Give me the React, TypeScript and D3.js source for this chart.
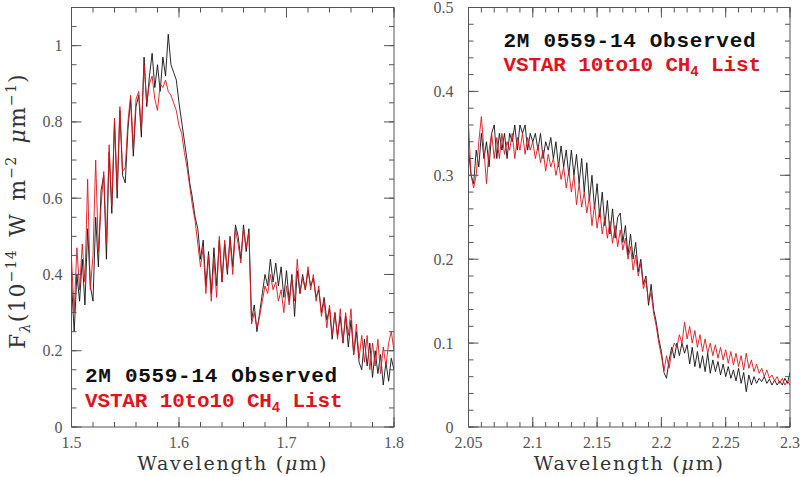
import React from "react";
import * as d3 from "d3";

// ---------- DATA ----------
// Left panel: H band, wavelength grid 1.500 .. 1.800 µm, step 0.0025
const LEFT_START = 1.5;
const LEFT_STEP = 0.0025;
const leftObserved = [
  0.38, 0.25, 0.40, 0.33, 0.44, 0.32, 0.52, 0.37, 0.33, 0.55,
  0.42, 0.62, 0.66, 0.44, 0.72, 0.56, 0.80, 0.60, 0.83, 0.66,
  0.64, 0.78, 0.86, 0.71, 0.84, 0.87, 0.76, 0.97, 0.84, 0.92,
  0.98, 0.89, 0.95, 0.88, 0.97, 0.92, 1.03, 0.95, 0.93, 0.91,
  0.85, 0.80, 0.75, 0.70, 0.64, 0.60, 0.55, 0.52, 0.44, 0.49,
  0.37, 0.46, 0.35, 0.47, 0.37, 0.49, 0.38, 0.48, 0.40, 0.50,
  0.42, 0.53, 0.50, 0.44, 0.53, 0.46, 0.52, 0.28, 0.32, 0.25,
  0.30, 0.35, 0.40, 0.37, 0.44, 0.38, 0.43, 0.37, 0.42, 0.34,
  0.41, 0.33, 0.40, 0.29, 0.41, 0.35, 0.40, 0.36, 0.41, 0.37,
  0.39, 0.34, 0.36, 0.30, 0.34, 0.28, 0.31, 0.23, 0.30, 0.24,
  0.29, 0.22, 0.29, 0.21, 0.28, 0.19, 0.25, 0.17, 0.15, 0.23,
  0.16, 0.22, 0.13, 0.20, 0.14, 0.19, 0.11, 0.17, 0.12, 0.18,
  0.15,
];
const leftModel = [
  0.44, 0.30, 0.47, 0.36, 0.48, 0.38, 0.65, 0.36, 0.45, 0.70,
  0.46, 0.58, 0.67, 0.48, 0.74, 0.58, 0.81, 0.62, 0.84, 0.67,
  0.68, 0.80, 0.87, 0.73, 0.86, 0.88, 0.78, 0.95, 0.85, 0.90,
  0.92, 0.86, 0.83, 0.90, 0.89, 0.91, 0.88, 0.87, 0.85, 0.83,
  0.79, 0.77, 0.72, 0.68, 0.63, 0.58, 0.54, 0.48, 0.42, 0.47,
  0.35, 0.45, 0.33, 0.44, 0.34, 0.50, 0.38, 0.49, 0.41, 0.49,
  0.40, 0.52, 0.48, 0.43, 0.52, 0.47, 0.51, 0.27, 0.30, 0.26,
  0.29, 0.33, 0.37, 0.35, 0.40, 0.36, 0.38, 0.33, 0.36, 0.30,
  0.37, 0.32, 0.39, 0.33, 0.44, 0.35, 0.39, 0.36, 0.42, 0.36,
  0.40, 0.33, 0.37, 0.29, 0.33, 0.26, 0.32, 0.24, 0.30, 0.23,
  0.31, 0.22, 0.30, 0.24, 0.31, 0.19, 0.27, 0.18, 0.24, 0.17,
  0.24, 0.15, 0.22, 0.16, 0.23, 0.14, 0.21, 0.16, 0.22, 0.25,
  0.20,
];

// Right panel: K band, wavelength grid 2.050 .. 2.300 µm, step 0.002
const RIGHT_START = 2.05;
const RIGHT_STEP = 0.002;
const rightObserved = [
  0.33, 0.30, 0.29, 0.33, 0.31, 0.35, 0.32, 0.34, 0.31, 0.35,
  0.36, 0.32, 0.35, 0.33, 0.35, 0.32, 0.35, 0.34, 0.36, 0.33,
  0.36, 0.35, 0.36, 0.33, 0.35, 0.34, 0.35, 0.33, 0.35, 0.32,
  0.34, 0.33, 0.345, 0.32, 0.34, 0.31, 0.335, 0.31, 0.33, 0.30,
  0.33, 0.30, 0.325, 0.29, 0.32, 0.28, 0.315, 0.27, 0.30, 0.26,
  0.29, 0.25, 0.28, 0.24, 0.27, 0.23, 0.26, 0.225, 0.25, 0.255,
  0.22, 0.24, 0.205, 0.23, 0.20, 0.22, 0.185, 0.20, 0.17, 0.18,
  0.145, 0.17, 0.14, 0.125, 0.105, 0.09, 0.065, 0.058, 0.08, 0.095,
  0.082, 0.10, 0.085, 0.10, 0.088, 0.098, 0.075, 0.095, 0.072, 0.09,
  0.07, 0.085, 0.066, 0.088, 0.064, 0.08, 0.066, 0.078, 0.062, 0.075,
  0.06, 0.072, 0.058, 0.068, 0.055, 0.07, 0.052, 0.065, 0.042, 0.062,
  0.05, 0.06, 0.052, 0.058, 0.054, 0.06, 0.052, 0.057, 0.05, 0.056,
  0.05, 0.055, 0.05, 0.058, 0.052, 0.065,
];
const rightModel = [
  0.36, 0.30, 0.285, 0.30, 0.34, 0.37, 0.33, 0.29, 0.33, 0.35,
  0.32, 0.345, 0.32, 0.35, 0.325, 0.34, 0.33, 0.35, 0.32, 0.345,
  0.33, 0.35, 0.325, 0.345, 0.33, 0.34, 0.32, 0.335, 0.315, 0.33,
  0.305, 0.325, 0.31, 0.32, 0.30, 0.315, 0.295, 0.31, 0.285, 0.305,
  0.28, 0.30, 0.265, 0.29, 0.262, 0.28, 0.255, 0.275, 0.24, 0.265,
  0.237, 0.26, 0.23, 0.25, 0.225, 0.245, 0.219, 0.24, 0.215, 0.235,
  0.211, 0.225, 0.20, 0.215, 0.187, 0.205, 0.18, 0.195, 0.165, 0.175,
  0.15, 0.16, 0.135, 0.12, 0.10, 0.085, 0.067, 0.085, 0.07, 0.09,
  0.10, 0.095, 0.11, 0.10, 0.125, 0.105, 0.12, 0.10, 0.115, 0.095,
  0.11, 0.09, 0.105, 0.088, 0.10, 0.085, 0.098, 0.082, 0.095, 0.08,
  0.092, 0.076, 0.09, 0.074, 0.088, 0.072, 0.085, 0.068, 0.088, 0.07,
  0.08, 0.066, 0.075, 0.064, 0.07, 0.06, 0.068, 0.058, 0.062, 0.055,
  0.06, 0.052, 0.058, 0.05, 0.055, 0.05,
];

// Axis ticks
const leftXTicks = [1.5, 1.6, 1.7, 1.8];
const leftXLabels = ["1.5", "1.6", "1.7", "1.8"];
const leftYTicks = [0, 0.2, 0.4, 0.6, 0.8, 1.0];
const leftYLabels = ["0", "0.2", "0.4", "0.6", "0.8", "1"];
const rightXTicks = [2.05, 2.1, 2.15, 2.2, 2.25, 2.3];
const rightXLabels = ["2.05", "2.1", "2.15", "2.2", "2.25", "2.3"];
const rightYTicks = [0, 0.1, 0.2, 0.3, 0.4, 0.5];
const rightYLabels = ["0", "0.1", "0.2", "0.3", "0.4", "0.5"];

const legendObserved = "2M 0559-14 Observed";
const legendModelA = "VSTAR 10to10 CH";
const legendModelSub = "4";
const legendModelB = "List";

// ---------- STYLE ----------
const W = 802;
const H = 477;
const RED = "#e3121b";
const BLACK = "#111111";
const FRAME = "#555555";
const TICKTXT = "#555555";
const SERIF = "'Liberation Serif', 'DejaVu Serif', serif";
const TITLE = "'DejaVu Serif', 'Liberation Serif', serif";
const MONO = "'Liberation Mono', 'DejaVu Sans Mono', monospace";
const LEG_FS = 21;
const LEG_SUB_FS = 14;
const LEG_LS1 = 0.7;
const LEG_LS2 = -0.15;

type PanelProps = {
  id: string;
  x0: number; x1: number; y0: number; y1: number;
  xDomain: [number, number]; yDomain: [number, number];
  xMinorCount: number; yMinorCount: number;
  xTicks: number[]; xLabels: string[];
  yTicks: number[]; yLabels: string[];
  yLabelGap: number;
  start: number; step: number;
  obs: number[]; model: number[];
  legendX: number; legendY1: number; legendY2: number;
};

function Panel(p: PanelProps) {
  const x = d3.scaleLinear().domain(p.xDomain).range([p.x0, p.x1]);
  const y = d3.scaleLinear().domain(p.yDomain).range([p.y1, p.y0]);
  const xMinor = x.ticks(p.xMinorCount);
  const yMinor = y.ticks(p.yMinorCount);
  const wave = (i: number) => p.start + i * p.step;
  const line = d3
    .line<number>()
    .x((_, i) => x(wave(i)))
    .y((v) => y(v));
  const MAJ = 10;
  const MIN = 5;
  const clipId = `clip-${p.id}`;
  const adv2 = LEG_FS * 0.6 + LEG_LS2;
  const subX = p.legendX + legendModelA.length * adv2;
  const restX = subX + LEG_SUB_FS * 0.6 + adv2;
  return (
    <g>
      <defs>
        <clipPath id={clipId}>
          <rect x={p.x0} y={p.y0} width={p.x1 - p.x0} height={p.y1 - p.y0} />
        </clipPath>
      </defs>
      <g clipPath={`url(#${clipId})`}>
        <path d={line(p.obs) || ""} fill="none" stroke={BLACK} strokeWidth={0.9} strokeLinejoin="round" />
        <path d={line(p.model) || ""} fill="none" stroke={RED} strokeWidth={0.9} strokeLinejoin="round" />
      </g>
      <rect x={p.x0} y={p.y0} width={p.x1 - p.x0} height={p.y1 - p.y0} fill="none" stroke={FRAME} strokeWidth={1} />
      {xMinor.map((t, i) => (
        <g key={`xm${i}`}>
          <line x1={x(t)} x2={x(t)} y1={p.y1} y2={p.y1 - MIN} stroke={FRAME} />
          <line x1={x(t)} x2={x(t)} y1={p.y0} y2={p.y0 + MIN} stroke={FRAME} />
        </g>
      ))}
      {yMinor.map((t, i) => (
        <g key={`ym${i}`}>
          <line x1={p.x0} x2={p.x0 + MIN} y1={y(t)} y2={y(t)} stroke={FRAME} />
          <line x1={p.x1} x2={p.x1 - MIN} y1={y(t)} y2={y(t)} stroke={FRAME} />
        </g>
      ))}
      {p.xTicks.map((t, i) => (
        <g key={`xM${i}`}>
          <line x1={x(t)} x2={x(t)} y1={p.y1} y2={p.y1 - MAJ} stroke={FRAME} />
          <line x1={x(t)} x2={x(t)} y1={p.y0} y2={p.y0 + MAJ} stroke={FRAME} />
          <text x={x(t)} y={p.y1 + 21} textAnchor="middle" fontFamily={SERIF} fontSize={16} fill={TICKTXT}>
            {p.xLabels[i]}
          </text>
        </g>
      ))}
      {p.yTicks.map((t, i) => (
        <g key={`yM${i}`}>
          <line x1={p.x0} x2={p.x0 + MAJ} y1={y(t)} y2={y(t)} stroke={FRAME} />
          <line x1={p.x1} x2={p.x1 - MAJ} y1={y(t)} y2={y(t)} stroke={FRAME} />
          <text x={p.x0 - p.yLabelGap} y={y(t) + 5.5} textAnchor="end" fontFamily={SERIF} fontSize={16} fill={TICKTXT}>
            {p.yLabels[i]}
          </text>
        </g>
      ))}
      <text
        x={(p.x0 + p.x1) / 2}
        y={470}
        textAnchor="middle"
        fontFamily={TITLE}
        fontSize={19}
        letterSpacing={1.8}
        fill="#333"
      >
        Wavelength (<tspan fontStyle="italic">μ</tspan>m)
      </text>
      <text
        x={p.legendX}
        y={p.legendY1}
        fontFamily={MONO}
        fontWeight="bold"
        fontSize={LEG_FS}
        letterSpacing={LEG_LS1}
        fill={BLACK}
      >
        {legendObserved}
      </text>
      <text
        x={p.legendX}
        y={p.legendY2}
        fontFamily={MONO}
        fontWeight="bold"
        fontSize={LEG_FS}
        letterSpacing={LEG_LS2}
        fill={RED}
      >
        {legendModelA}
      </text>
      <text
        x={subX}
        y={p.legendY2 + 5}
        fontFamily={MONO}
        fontWeight="bold"
        fontSize={LEG_SUB_FS}
        fill={RED}
      >
        {legendModelSub}
      </text>
      <text
        x={restX}
        y={p.legendY2}
        fontFamily={MONO}
        fontWeight="bold"
        fontSize={LEG_FS}
        letterSpacing={LEG_LS2}
        fill={RED}
      >
        {legendModelB}
      </text>
    </g>
  );
}

export default function App() {
  return (
    <svg
      width={W}
      height={H}
      viewBox={`0 0 ${W} ${H}`}
      style={{ position: "absolute", left: 0, top: 0, background: "#fff" }}
    >
      <rect x={0} y={0} width={W} height={H} fill="#fff" />
      <Panel
        id="left"
        x0={71.5} x1={394} y0={7.5} y1={427}
        xDomain={[1.5, 1.8]} yDomain={[0, 1.1]}
        xMinorCount={15} yMinorCount={22}
        xTicks={leftXTicks} xLabels={leftXLabels}
        yTicks={leftYTicks} yLabels={leftYLabels}
        yLabelGap={9}
        start={LEFT_START} step={LEFT_STEP}
        obs={leftObserved} model={leftModel}
        legendX={85} legendY1={381.5} legendY2={406.5}
      />
      <Panel
        id="right"
        x0={468.5} x1={790} y0={7.5} y1={427}
        xDomain={[2.05, 2.3]} yDomain={[0, 0.5]}
        xMinorCount={25} yMinorCount={25}
        xTicks={rightXTicks} xLabels={rightXLabels}
        yTicks={rightYTicks} yLabels={rightYLabels}
        yLabelGap={15}
        start={RIGHT_START} step={RIGHT_STEP}
        obs={rightObserved} model={rightModel}
        legendX={503.5} legendY1={47} legendY2={70.5}
      />
      <text
        transform="translate(25,211) rotate(-90)"
        textAnchor="middle"
        fontFamily={TITLE}
        fontSize={22}
        letterSpacing={1.2}
        wordSpacing={4}
        fill="#333"
      >
        F<tspan dy={5} fontSize={14} fontStyle="italic">λ</tspan>
        <tspan dy={-5}>(10</tspan>
        <tspan dy={-9} fontSize={14}>−14</tspan>
        <tspan dy={9}> W m</tspan>
        <tspan dy={-9} fontSize={14}>−2</tspan>
        <tspan dy={9}> </tspan>
        <tspan fontStyle="italic">μ</tspan>
        <tspan>m</tspan>
        <tspan dy={-9} fontSize={14}>−1</tspan>
        <tspan dy={9}>)</tspan>
      </text>
    </svg>
  );
}
